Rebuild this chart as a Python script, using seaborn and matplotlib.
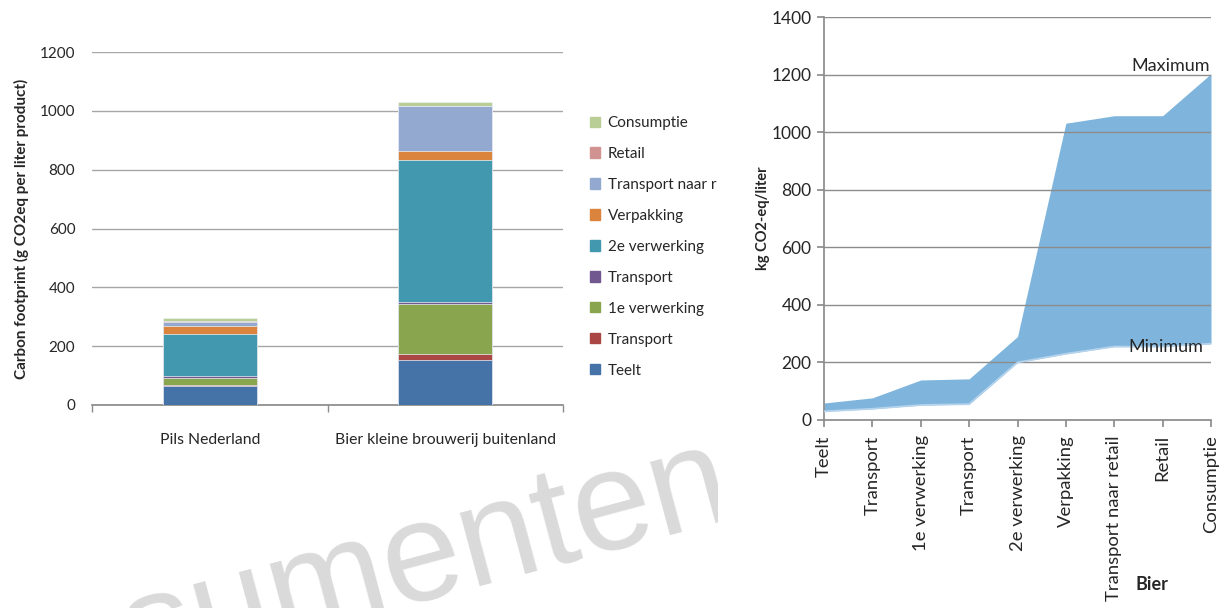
import numpy as np
import pandas as pd
import seaborn as sns
import matplotlib.pyplot as plt
from matplotlib.patches import Patch

# left chart: carbon footprint per stage (g CO2eq per liter)
products = ["Pils Nederland", "Bier kleine brouwerij buitenland"]
stages = ["Teelt", "Transport", "1e verwerking", "Transport ", "2e verwerking",
          "Verpakking", "Transport naar r", "Retail", "Consumptie"]
pils = [65, 3, 25, 4, 143, 30, 12, 2, 13]
bier = [153, 22, 169, 7, 481, 31, 152, 3, 12]
stage_colors = ["#4572A7", "#AA4643", "#89A54E", "#71588F", "#4198AF",
                "#DB843D", "#93A9CF", "#D19392", "#B9CD96"]

# right chart: cumulative range for Bier (kg CO2-eq/liter)
chain = ["Teelt", "Transport", "1e verwerking", "Transport", "2e verwerking",
         "Verpakking", "Transport naar retail", "Retail", "Consumptie"]
minimum = [30, 39, 52, 55, 200, 230, 255, 255, 265]
maximum = [59, 77, 139, 143, 290, 1031, 1057, 1057, 1203]

sns.set_theme(style="white")
plt.rcParams["font.family"] = ["Lato", "DejaVu Sans"]

fig = plt.figure(figsize=(12.3, 6.08), dpi=100)

# watermark, cut off at the left edge and by the right chart
wm = fig.add_axes([0, 0, 718 / 1230, 1])
wm.set_axis_off()
wm.set_xlim(0, 718)
wm.set_ylim(0, 608)
wm.text(-85, -128, "consumentenbond", fontsize=102, color="#DADADA",
        rotation=15, rotation_mode="anchor", ha="left", va="baseline",
        family="Liberation Sans", clip_on=True, zorder=0)

# ---- left stacked bars ----
ax = fig.add_axes([92 / 1230, 203 / 608, 471 / 1230, 353 / 608])
ax.patch.set_alpha(0)
df = pd.DataFrame({"product": np.repeat(products, len(stages)),
                   "stage": stages * 2,
                   "value": pils + bier})
df["cum"] = df.groupby("product")["value"].cumsum()
for i in range(len(stages) - 1, -1, -1):
    layer = df[df["stage"] == stages[i]]
    sns.barplot(data=layer, x="product", y="cum", order=products, color=stage_colors[i],
                width=0.4, saturation=1, edgecolor="#EEF2F8", linewidth=0.5, ax=ax, zorder=3)

ax.set_ylim(0, 1200)
ax.set_xlim(-0.5, 1.5)
ax.set_yticks(range(0, 1201, 200))
ax.yaxis.grid(True, color="#A6A6A6", lw=1)
ax.set_axisbelow(True)
for s in ["top", "right", "left"]:
    ax.spines[s].set_visible(False)
ax.spines["bottom"].set_color("#8C8C8C")
ax.set_xticks([-0.5, 0.5, 1.5], minor=True)
ax.tick_params(axis="x", which="minor", bottom=True, length=5, color="#8C8C8C", direction="out")
ax.tick_params(axis="x", which="major", length=0, pad=20, labelsize=11.3)
ax.tick_params(axis="y", length=0, pad=12, labelsize=11)
ax.set_xlabel("")
ax.set_ylabel("Carbon footprint (g CO2eq per liter product)", fontsize=11,
              fontweight="bold", labelpad=8)

handles = [Patch(color=c, label=s.strip()) for s, c in zip(stages, stage_colors)][::-1]
fig.legend(handles=handles, loc="upper left", bbox_to_anchor=(590 / 1230, 1 - 116 / 608),
           frameon=False, fontsize=11, labelspacing=1.11, handlelength=0.65,
           handleheight=0.65, handletextpad=0.5, borderpad=0, borderaxespad=0)

# ---- right range area ----
ax2 = fig.add_axes([824 / 1230, 188 / 608, 387 / 1230, 403 / 608])
x = np.arange(len(chain))
ax2.fill_between(x, minimum, maximum, color="#7FB5DC", lw=0, zorder=2)
sns.lineplot(x=x, y=minimum, color="#B5D3EC", lw=1.3, ax=ax2, zorder=3)
ax2.set_xlim(0, len(chain) - 1)
ax2.set_ylim(0, 1400)
ax2.set_yticks(range(0, 1401, 200))
ax2.set_xticks(x)
ax2.set_xticklabels(chain, rotation=90, ha="center", va="top", fontsize=13.3)
ax2.yaxis.grid(True, color="#8C8C8C", lw=1)
ax2.set_axisbelow(False)
ax2.spines["top"].set_visible(False)
ax2.spines["right"].set_visible(False)
ax2.spines["left"].set_color("#8C8C8C")
ax2.spines["bottom"].set_color("#8C8C8C")
ax2.tick_params(axis="both", length=5, color="#8C8C8C", direction="out",
                bottom=True, left=True)
ax2.tick_params(axis="x", pad=6)
ax2.tick_params(axis="y", pad=4, labelsize=12.5)
ax2.set_ylabel("kg CO2-eq/liter", fontsize=10.5, fontweight="bold", labelpad=1)
ax2.text(7.97, 1203, "Maximum", ha="right", va="bottom", fontsize=13)
ax2.text(7.85, 252, "Minimum", ha="right", va="center", fontsize=13)
fig.text(1152 / 1230, 1 - 585 / 608, "Bier", ha="center", va="center",
         fontsize=13, fontweight="bold")

fig.savefig("out.png", dpi=100)
